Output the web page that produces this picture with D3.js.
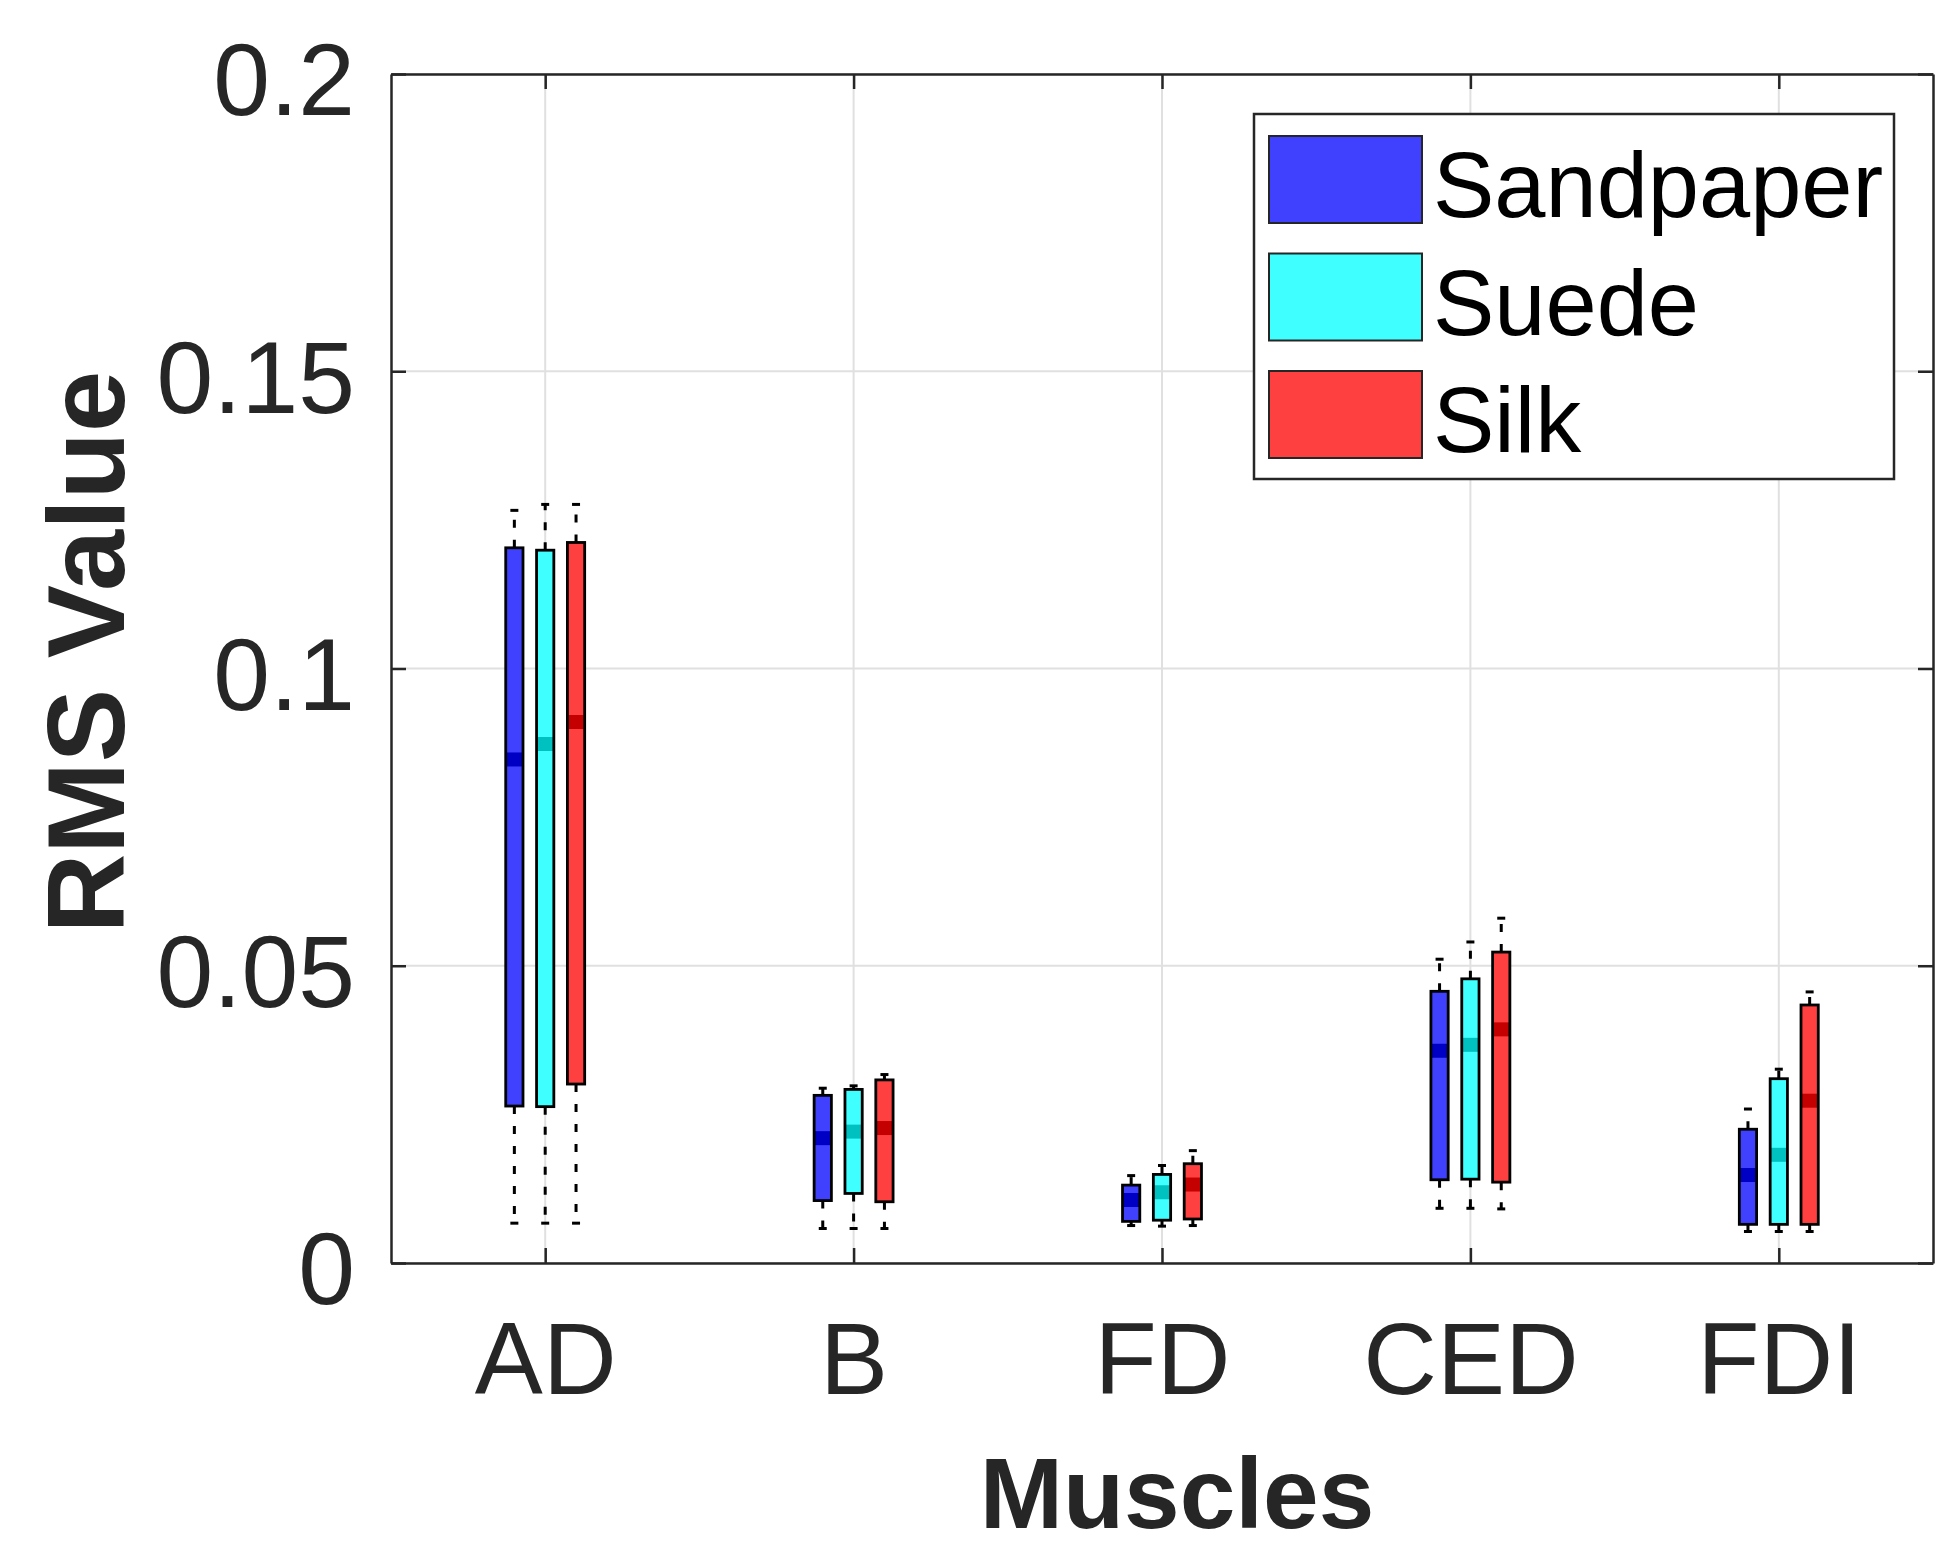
<!DOCTYPE html>
<html>
<head>
<meta charset="utf-8">
<script src="https://cdn.jsdelivr.net/npm/d3@7"></script>
<style>
  html, body { margin: 0; padding: 0; background: #fff; }
  text { font-family: "Liberation Sans", Arial, Helvetica, sans-serif; }
</style>
</head>
<body>
<div id="chart"></div>
<script>
// Muscles on the x axis, one box per fabric
const muscles = ["AD", "B", "FD", "CED", "FDI"];
const fabrics = ["Sandpaper", "Suede", "Silk"];
const yTicks = [0, 0.05, 0.1, 0.15, 0.2];
const yTickLabels = ["0", "0.05", "0.1", "0.15", "0.2"];

// [lower whisker, q1, median, q3, upper whisker] per muscle
const sandpaper = [
  [0.0067, 0.0264, 0.0847, 0.1203, 0.1266],
  [0.0058, 0.0105, 0.0210, 0.0282, 0.0294],
  [0.0063, 0.0070, 0.0106, 0.0131, 0.0147],
  [0.0092, 0.0140, 0.0357, 0.0457, 0.0511],
  [0.0053, 0.0065, 0.0148, 0.0225, 0.0259]
];
const suede = [
  [0.0067, 0.0263, 0.0873, 0.1199, 0.1276],
  [0.0058, 0.0117, 0.0221, 0.0292, 0.0298],
  [0.0062, 0.0072, 0.0119, 0.0149, 0.0164],
  [0.0092, 0.0141, 0.0367, 0.0478, 0.0540],
  [0.0053, 0.0065, 0.0182, 0.0310, 0.0326]
];
const silk = [
  [0.0067, 0.0301, 0.0910, 0.1212, 0.1276],
  [0.0058, 0.0103, 0.0227, 0.0308, 0.0317],
  [0.0063, 0.0074, 0.0132, 0.0167, 0.0189],
  [0.0091, 0.0136, 0.0393, 0.0523, 0.0580],
  [0.0053, 0.0065, 0.0273, 0.0434, 0.0456]
];

const fills = ["#4040ff", "#40ffff", "#ff4040"];
const medianFills = ["#0000c4", "#00c0c0", "#c40000"];

const margin = { top: 74, right: 24, bottom: 291, left: 391 };
const width = 1957 - margin.left - margin.right;
const height = 1554 - margin.top - margin.bottom;
const ink = "#262626";

const svg = d3
  .select("#chart")
  .append("svg")
  .attr("width", 1957)
  .attr("height", 1554);

const g = svg
  .append("g")
  .attr("transform", `translate(${margin.left}, ${margin.top})`);

// Scales
const xScale = d3.scaleLinear().domain([0.5, 5.5]).range([0, width]);
const yScale = d3.scaleLinear().domain([0, 0.2]).range([height, 0]);

const offset = 0.1;     // group spacing in category units
const boxW = xScale(0.056) - xScale(0);
const capW = 8;

// Grid
g.selectAll(".hgrid")
  .data(yTicks)
  .enter()
  .append("line")
  .attr("x1", 0)
  .attr("x2", width)
  .attr("y1", d => yScale(d))
  .attr("y2", d => yScale(d))
  .attr("stroke", "#e0e0e0")
  .attr("stroke-width", 2);

g.selectAll(".vgrid")
  .data(muscles)
  .enter()
  .append("line")
  .attr("x1", (d, i) => xScale(i + 1))
  .attr("x2", (d, i) => xScale(i + 1))
  .attr("y1", 0)
  .attr("y2", height)
  .attr("stroke", "#e0e0e0")
  .attr("stroke-width", 2);

// Boxes
const series = [sandpaper, suede, silk];
series.forEach((rows, s) => {
  const grp = g.append("g").attr("class", "series");
  const cx = i => xScale(i + 1 + (s - 1) * offset);

  rows.forEach((r, i) => {
    const x = cx(i);
    const [lo, q1, med, q3, hi] = r;

    // whiskers
    [[q3, hi], [q1, lo]].forEach(([a, b]) => {
      grp.append("line")
        .attr("x1", x).attr("x2", x)
        .attr("y1", yScale(a)).attr("y2", yScale(b))
        .attr("stroke", "#000")
        .attr("stroke-width", 3)
        .attr("stroke-dasharray", "8,12");
      grp.append("line")
        .attr("x1", x - capW / 2).attr("x2", x + capW / 2)
        .attr("y1", yScale(b)).attr("y2", yScale(b))
        .attr("stroke", "#000")
        .attr("stroke-width", 3);
    });

    grp.append("rect")
      .attr("x", x - boxW / 2)
      .attr("y", yScale(q3))
      .attr("width", boxW)
      .attr("height", yScale(q1) - yScale(q3))
      .attr("fill", fills[s]);

    grp.append("rect")
      .attr("x", x - boxW / 2)
      .attr("y", yScale(med) - 7)
      .attr("width", boxW)
      .attr("height", 14)
      .attr("fill", medianFills[s]);

    grp.append("rect")
      .attr("x", x - boxW / 2)
      .attr("y", yScale(q3))
      .attr("width", boxW)
      .attr("height", yScale(q1) - yScale(q3))
      .attr("fill", "none")
      .attr("stroke", "#000")
      .attr("stroke-width", 2.8);
  });
});

// Axes box with inward ticks on all sides
const tickLen = 15;
const xAxisB = d3.axisBottom(xScale).tickValues([1, 2, 3, 4, 5])
  .tickFormat(d => muscles[d - 1]).tickSizeInner(-tickLen).tickSizeOuter(0).tickPadding(59);
const xAxisT = d3.axisTop(xScale).tickValues([1, 2, 3, 4, 5])
  .tickFormat("").tickSizeInner(-tickLen).tickSizeOuter(0);
const yAxisL = d3.axisLeft(yScale).tickValues(yTicks)
  .tickFormat((d, i) => yTickLabels[i]).tickSizeInner(-tickLen).tickSizeOuter(0).tickPadding(36);
const yAxisR = d3.axisRight(yScale).tickValues(yTicks)
  .tickFormat("").tickSizeInner(-tickLen).tickSizeOuter(0);

const styleAxis = sel => {
  sel.select(".domain").attr("stroke", ink).attr("stroke-width", 2.5);
  sel.selectAll(".tick line").attr("stroke", ink).attr("stroke-width", 2.5);
  sel.selectAll(".tick text")
    .attr("fill", ink)
    .style("font-size", "102px")
    .style("font-family", '"Liberation Sans", Arial, sans-serif');
};

g.append("g").attr("transform", `translate(0, ${height})`).call(xAxisB).call(styleAxis);
g.append("g").call(xAxisT).call(styleAxis);
g.append("g").call(yAxisL).call(styleAxis)
  .selectAll(".tick text").attr("dy", "0.4em");
g.append("g").attr("transform", `translate(${width}, 0)`).call(yAxisR).call(styleAxis);

// Axis titles
svg.append("text")
  .attr("x", 1177)
  .attr("y", 1528)
  .attr("text-anchor", "middle")
  .attr("fill", ink)
  .style("font-size", "100px")
  .style("font-weight", "bold")
  .text("Muscles");

svg.append("text")
  .attr("transform", "translate(124, 652) rotate(-90)")
  .attr("text-anchor", "middle")
  .attr("fill", ink)
  .style("font-size", "110px")
  .style("font-weight", "bold")
  .text("RMS Value");

// Legend
const legend = svg.append("g").attr("transform", "translate(1254, 114)");
legend.append("rect")
  .attr("width", 640)
  .attr("height", 365)
  .attr("fill", "#fff")
  .attr("stroke", ink)
  .attr("stroke-width", 2.5);

const items = legend.selectAll(".item")
  .data(fabrics)
  .enter()
  .append("g")
  .attr("transform", (d, i) => `translate(15, ${22 + i * 117.5})`);

items.append("rect")
  .attr("width", 153)
  .attr("height", 87)
  .attr("fill", (d, i) => fills[i])
  .attr("stroke", ink)
  .attr("stroke-width", 2);

items.append("text")
  .attr("x", 164)
  .attr("y", 81)
  .attr("fill", "#000")
  .style("font-size", "92px")
  .text(d => d);
</script>
</body>
</html>
